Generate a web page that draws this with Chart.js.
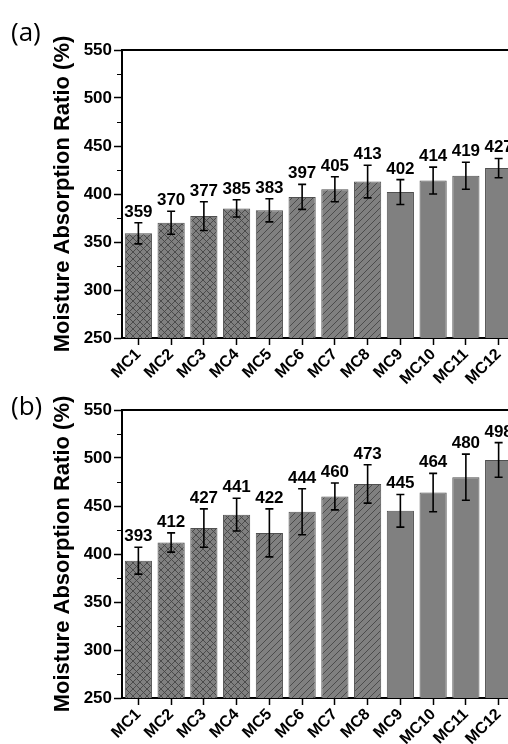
<!DOCTYPE html>
<html>
<head>
<meta charset="utf-8">
<script src="https://cdn.jsdelivr.net/npm/chart.js@4.4.1/dist/chart.umd.min.js"></script>
<style>
  html, body { margin: 0; padding: 0; background: #fff; overflow: hidden; }
  body { width: 508px; height: 744px; position: relative; }
  canvas { position: absolute; left: 0; }
  #chartA { top: 0; }
  #chartB { top: 360px; }
</style>
</head>
<body>
<canvas id="chartA" width="520" height="400"></canvas>
<canvas id="chartB" width="520" height="384"></canvas>
<script>
// data
const categories = ['MC1', 'MC2', 'MC3', 'MC4', 'MC5', 'MC6', 'MC7', 'MC8', 'MC9', 'MC10', 'MC11', 'MC12'];
const valuesA = [359, 370, 377, 385, 383, 397, 405, 413, 402, 414, 419, 427];
const errorsA = [11, 12, 15, 9, 12, 13, 13, 17, 13, 14, 14, 10];
const valuesB = [393, 412, 427, 441, 422, 444, 460, 473, 445, 464, 480, 498];
const errorsB = [14, 10, 20, 17, 25, 24, 14, 20, 17, 20, 24, 18];
const fills = ['cross', 'cross', 'cross', 'cross', 'hatch', 'hatch', 'hatch', 'hatch', 'solid', 'solid', 'solid', 'solid'];
const yMin = 250, yMax = 550, yStep = 50, yMinorStep = 25;

const FONT = '"Liberation Sans", Arial, sans-serif';

function makePattern(kind) {
    const s = 7;
    const c = document.createElement('canvas');
    c.width = s; c.height = s;
    const g = c.getContext('2d');
    g.fillStyle = '#808080';
    g.fillRect(0, 0, s, s);
    if (kind == 'solid') return '#808080';
    g.strokeStyle = '#454545';
    g.lineWidth = 0.9;
    g.beginPath();
    // "/" lines
    g.moveTo(0, s); g.lineTo(s, 0);
    g.moveTo(-1, 1); g.lineTo(1, -1);
    g.moveTo(s - 1, s + 1); g.lineTo(s + 1, s - 1);
    if (kind == 'cross') {
        g.moveTo(0, 0); g.lineTo(s, s);
        g.moveTo(-1, s - 1); g.lineTo(1, s + 1);
        g.moveTo(s - 1, -1); g.lineTo(s + 1, 1);
    }
    g.stroke();
    return g.createPattern(c, 'repeat');
}
const patterns = {};
['cross', 'hatch', 'solid'].forEach(k => patterns[k] = makePattern(k));

// error bars, value labels, minor ticks, top frame, panel letter
const overlay = {
    id: 'overlay',
    afterDatasetsDraw(chart, args, opts) {
        const ctx = chart.ctx;
        const area = chart.chartArea;
        const x = chart.scales.x, y = chart.scales.y;
        const vals = chart.data.datasets[0].data;
        ctx.save();
        ctx.strokeStyle = '#000';
        ctx.fillStyle = '#000';
        ctx.lineWidth = 1.6;
        ctx.font = 'bold 17px ' + FONT;
        ctx.textAlign = 'center';
        ctx.textBaseline = 'alphabetic';
        vals.forEach((v, i) => {
            const px = x.getPixelForValue(i);
            const top = y.getPixelForValue(v + opts.errors[i]);
            const bot = y.getPixelForValue(v - opts.errors[i]);
            ctx.beginPath();
            ctx.moveTo(px, top); ctx.lineTo(px, bot);
            ctx.moveTo(px - 4, top); ctx.lineTo(px + 4, top);
            ctx.moveTo(px - 4, bot); ctx.lineTo(px + 4, bot);
            ctx.stroke();
            ctx.fillText(String(v), px, top - 6);
        });
        // minor ticks
        ctx.lineWidth = 1.2;
        ctx.beginPath();
        for (let v = yMin + yMinorStep; v < yMax; v += yStep) {
            const py = Math.round(y.getPixelForValue(v)) + 0.5;
            ctx.moveTo(area.left - 5, py); ctx.lineTo(area.left, py);
        }
        ctx.stroke();
        // top frame line
        ctx.lineWidth = 2;
        ctx.beginPath();
        ctx.moveTo(area.left - 1, area.top); ctx.lineTo(area.right, area.top);
        ctx.stroke();
        // panel letter
        ctx.font = '26px "Open Sans", ' + FONT;
        ctx.textAlign = 'left';
        ctx.fillText(opts.letter, 11, opts.letterY);
        ctx.restore();
    }
};

function makeChart(id, values, errors, letter, letterY, xHeight) {
    const ctx = document.getElementById(id).getContext('2d');
    return new Chart(ctx, {
        type: 'bar',
        data: {
            labels: categories,
            datasets: [{
                data: values,
                backgroundColor: fills.map(f => patterns[f]),
                borderColor: '#505050',
                borderWidth: 1,
                barPercentage: 0.83,
                categoryPercentage: 1
            }]
        },
        options: {
            responsive: false,
            animation: false,
            layout: { padding: { top: 50, right: 5, left: 0, bottom: 0 } },
            plugins: {
                legend: { display: false },
                tooltip: { enabled: false },
                overlay: { errors: errors, letter: letter, letterY: letterY }
            },
            scales: {
                x: {
                    grid: { drawOnChartArea: false, offset: false, tickLength: 7, tickColor: '#000', tickWidth: 1.5 },
                    border: { color: '#000', width: 2 },
                    ticks: {
                        color: '#000', autoSkip: false, minRotation: 45, maxRotation: 45, padding: 0,
                        font: { family: FONT, size: 16, weight: 'bold' }
                    },
                    afterFit: s => { s.height = xHeight; }
                },
                y: {
                    min: yMin, max: yMax,
                    grid: { drawOnChartArea: false, tickLength: 8, tickColor: '#000', tickWidth: 1.5 },
                    border: { color: '#000', width: 2 },
                    ticks: {
                        stepSize: yStep, color: '#000', padding: 2,
                        font: { family: FONT, size: 17, weight: 'bold' }
                    },
                    title: {
                        display: true, text: 'Moisture Absorption Ratio (%)', color: '#000',
                        font: { family: FONT, size: 22, weight: 'bold' },
                        padding: { top: 50, bottom: 0 }
                    },
                    afterFit: s => { s.width = 122; }
                }
            }
        },
        plugins: [overlay]
    });
}

makeChart('chartA', valuesA, errorsA, '(a)', 41, 62);
makeChart('chartB', valuesB, errorsB, '(b)', 55, 46);
</script>
</body>
</html>
